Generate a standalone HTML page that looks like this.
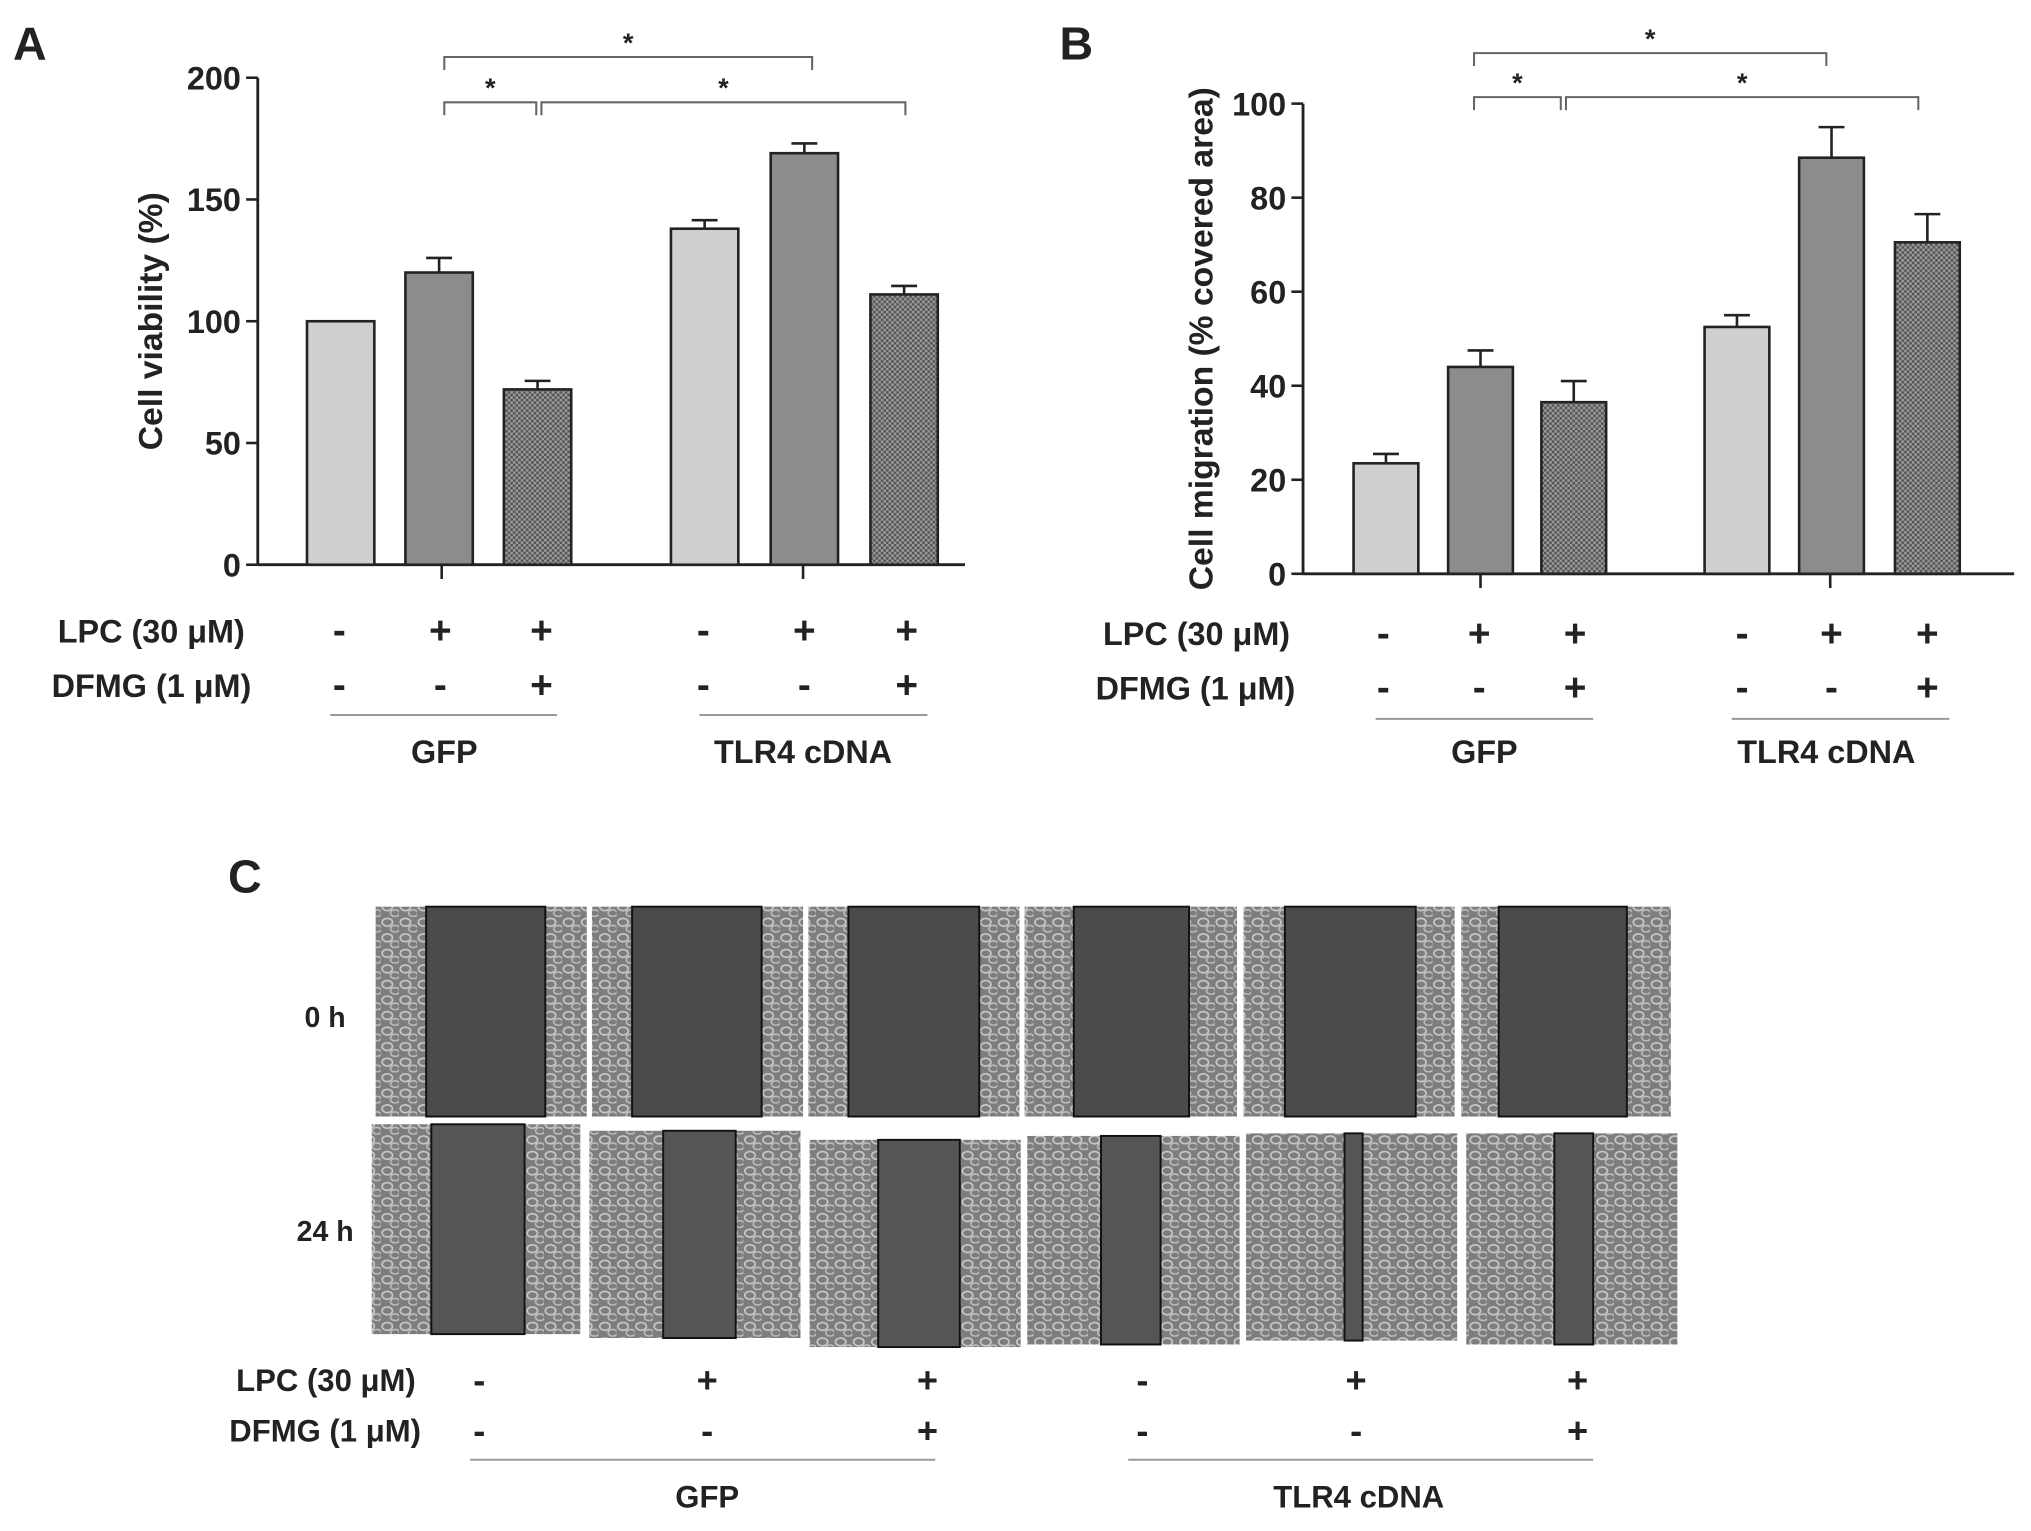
<!DOCTYPE html>
<html><head><meta charset="utf-8"><style>
html,body{margin:0;padding:0;background:#fff}
svg{display:block}
text{font-family:"Liberation Sans",Arial,sans-serif;font-weight:bold;fill:#222}
</style></head><body>
<svg id="fig" width="2031" height="1531" viewBox="0 0 1568 1182" xmlns="http://www.w3.org/2000/svg">
<defs>
<pattern id="hatch" width="4" height="4" patternUnits="userSpaceOnUse"><rect width="4" height="4" fill="#555"/><rect width="2" height="2" fill="#9a9a9a"/><rect x="2" y="2" width="2" height="2" fill="#9a9a9a"/></pattern>
<pattern id="cells" width="14" height="12" patternUnits="userSpaceOnUse"><rect width="14" height="12" fill="#7d7d7d"/><ellipse cx="5" cy="4" rx="4" ry="3" fill="none" stroke="#c8c8c8" stroke-width="1.3"/><ellipse cx="11" cy="9" rx="3.5" ry="2.6" fill="none" stroke="#bdbdbd" stroke-width="1.2"/></pattern>
</defs>
<g id="panelA"></g>
<g id="panelB"></g>
<g id="panelC"></g>
</svg>
<script>
const NS="http://www.w3.org/2000/svg";
// Panel A data
const aValues=[100,120,72,138,169,111];
const aErrors=[0,6,3.5,3.5,4,3.5];
const aTicks=[0,50,100,150,200];
// Panel B data
const bValues=[23.5,44,36.5,52.5,88.5,70.5];
const bErrors=[2,3.5,4.5,2.5,6.5,6];
const bTicks=[0,20,40,60,80,100];
const lpcSigns=["-","+","+","-","+","+"];
const dfmgSigns=["-","-","+","-","-","+"];
const groups=["GFP","TLR4 cDNA"];
// Panel C scratch gap widths
const gap0h=[92,100,101,89,101,99];
const gap24h=[72,56,63,46,14,30];

function el(tag,attrs,parent,txt){const e=document.createElementNS(NS,tag);for(const k in attrs)e.setAttribute(k,attrs[k]);if(txt!==undefined)e.textContent=txt;parent.appendChild(e);return e;}
const fills=["#cfcfcf","#8c8c8c","url(#hatch)","#cfcfcf","#8c8c8c","url(#hatch)"];

function chart(g,cfg){
  const {x0,x1,yTop,yBot,max,ticks,values,errors,barX,barW,title,titleX,letter,letterX,tickX,brackets,rowY,symX,labelR,lines,grpX,grpY}=cfg;
  const ys=v=>yBot-(v/max)*(yBot-yTop);
  let t=el('text',{x:letterX,y:46,'font-size':36},g,letter);
  
  let ax=el('line',{x1:x0,y1:yTop,x2:x0,y2:yBot,stroke:'#222','stroke-width':2.2},g);
  
  let xa=el('line',{x1:x0,y1:yBot,x2:x1,y2:yBot,stroke:'#222','stroke-width':2.2},g);
  
  ticks.forEach(v=>{
    const tl=el('line',{x1:x0-9,y1:ys(v),x2:x0,y2:ys(v),stroke:'#222','stroke-width':2},g);
    
    const tt=el('text',{x:x0-13,y:ys(v)+9,'text-anchor':'end','font-size':25},g,String(v));
    
  });
  tickX.forEach(x=>{el('line',{x1:x,y1:yBot,x2:x,y2:yBot+11,stroke:'#222','stroke-width':2},g);});
  const yt=el('text',{x:0,y:0,'text-anchor':'middle','font-size':26,transform:`translate(${titleX},${(yTop+yBot)/2}) rotate(-90)`},g,title);
  
  values.forEach((v,i)=>{
    const x=barX[i];
    const b=el('rect',{x:x,y:ys(v),width:barW,height:yBot-ys(v),fill:fills[i],stroke:'#222','stroke-width':2},g);
    
    if(errors[i]>0){
      const cx=x+barW/2,ye=ys(v+errors[i]);
      const e1=el('path',{d:`M${cx},${ys(v)}V${ye}M${cx-10},${ye}H${cx+10}`,stroke:'#222','stroke-width':2,fill:'none'},g);
      
    }
  });
  brackets.forEach(br=>{
    const p=el('path',{d:`M${br[0]},${br[2]+10}V${br[2]}H${br[1]}V${br[2]+10}`,stroke:'#666','stroke-width':1.6,fill:'none'},g);
    
    const s=el('text',{x:(br[0]+br[1])/2,y:br[2]-4,'text-anchor':'middle','font-size':21,fill:'#555'},g,'*');
    
  });
  rows(g,rowY,symX,labelR,lines,grpX,grpY,25,30);
}
function rows(g,rowY,symX,labelR,lines,grpX,grpY,fs,sfs){
  const l1=el('text',{x:labelR[0],y:rowY[0]+9,'text-anchor':'end','font-size':fs},g,'LPC (30 μM)');
  
  const l2=el('text',{x:labelR[1],y:rowY[1]+9,'text-anchor':'end','font-size':fs},g,'DFMG (1 μM)');
  
  symX.forEach((x,i)=>{
    const a=el('text',{x:x,y:rowY[0]+10,'text-anchor':'middle','font-size':sfs},g,lpcSigns[i]);
    
    const b=el('text',{x:x,y:rowY[1]+10,'text-anchor':'middle','font-size':sfs},g,dfmgSigns[i]);
    
  });
  lines.forEach((ln,i)=>{
    const l=el('line',{x1:ln[0],y1:ln[2],x2:ln[1],y2:ln[2],stroke:'#999','stroke-width':1.6},g);
    
    const t=el('text',{x:grpX[i],y:grpY+9,'text-anchor':'middle','font-size':fs},g,groups[i]);
    
  });
}
chart(document.getElementById('panelA'),{x0:199,x1:745,yTop:60,yBot:436,max:200,ticks:aTicks,values:aValues,errors:aErrors,
  barX:[237,313,389,518,595,672],barW:52,title:'Cell viability  (%)',titleX:125,letter:'A',letterX:10,tickX:[341,620],
  brackets:[[343,627,44],[343,414,79],[418,699,79]],rowY:[487,529],symX:[262,340,418,543,621,700],labelR:[189,194],
  lines:[[255,430,552],[540,716,552]],grpX:[343,620],grpY:580});
chart(document.getElementById('panelB'),{x0:1006,x1:1555,yTop:80,yBot:443,max:100,ticks:bTicks,values:bValues,errors:bErrors,
  barX:[1045,1118,1190,1316,1389,1463],barW:50,title:'Cell migration  (%  covered area)',titleX:936,letter:'B',letterX:818,tickX:[1143,1413],
  brackets:[[1138,1410,41],[1138,1205,75],[1209,1481,75]],rowY:[489,531],symX:[1068,1142,1216,1345,1414,1488],labelR:[996,1000],
  lines:[[1062,1230,555],[1337,1505,555]],grpX:[1146,1410],grpY:580});

// Panel C
const gc=document.getElementById('panelC');
let tc=el('text',{x:176,y:689,'font-size':36},gc,'C');

const topImgs=[[290,700,163,162,39],[457,700,163,162,31],[624,700,163,162,31],[791,700,164,162,38],[960,700,163,162,32],[1128,700,162,162,29]];
const botImgs=[[287,868,161,162,46],[455,873,163,160,57],[625,880,163,160,53],[793,877,164,161,57],[962,875,163,160,76],[1132,875,163,163,68]];
function img(r,gw,name,dark){
  const g=el('g',{},gc);
  
  el('rect',{x:r[0],y:r[1],width:r[2],height:r[3],fill:'url(#cells)'},g);
  el('rect',{x:r[0]+r[4],y:r[1],width:gw,height:r[3],fill:dark,stroke:'#111','stroke-width':1.5},g);
}
topImgs.forEach((r,i)=>img(r,gap0h[i],'scratch-image-0h-'+(i+1),'#4b4b4b'));
botImgs.forEach((r,i)=>img(r,gap24h[i],'scratch-image-24h-'+(i+1),'#555'));
let h0=el('text',{x:251,y:793,'text-anchor':'middle','font-size':22},gc,'0 h');

let h24=el('text',{x:251,y:958,'text-anchor':'middle','font-size':22},gc,'24 h');

rows(gc,[1065,1104],[370,546,716,882,1047,1218],[321,325],[[363,722,1127],[871,1230,1127]],[546,1049],1155,24,28);
</script>
</body></html>
